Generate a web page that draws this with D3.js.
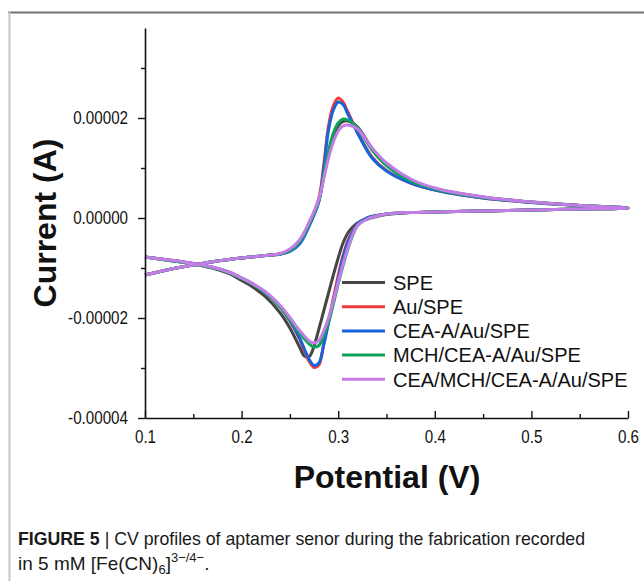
<!DOCTYPE html>
<html>
<head>
<meta charset="utf-8">
<script src="https://cdn.jsdelivr.net/npm/d3@7/dist/d3.min.js"></script>
<style>
  body { margin: 0; background: #fff; }
  svg { display: block; }
  .tickLabel { font-family: "Liberation Sans", Arial, sans-serif; font-size: 18.5px; fill: #111; }
</style>
</head>
<body>
<div id="chart"></div>
<script>
"use strict";

// potentials (V) of the forward (anodic) and reverse (cathodic) scans
let forwardPotential = [0.10, 0.125, 0.15, 0.175, 0.20, 0.225, 0.24, 0.25, 0.26, 0.27, 0.28, 0.285, 0.29,
  0.295, 0.30, 0.305, 0.31, 0.32, 0.335, 0.35, 0.375, 0.40, 0.45, 0.50, 0.55, 0.60];
let reversePotential = [0.60, 0.55, 0.50, 0.45, 0.40, 0.375, 0.35, 0.34, 0.33, 0.32, 0.315, 0.31, 0.305,
  0.30, 0.295, 0.29, 0.285, 0.28, 0.275, 0.27, 0.265, 0.26, 0.25, 0.24, 0.225, 0.21, 0.20, 0.188, 0.175,
  0.15, 0.125, 0.10];

let seriesNames = ["SPE", "Au/SPE", "CEA-A/Au/SPE", "MCH/CEA-A/Au/SPE", "CEA/MCH/CEA-A/Au/SPE"];
let seriesColors = ["#454545", "#f23a3a", "#1763d9", "#0ea35a", "#c47de6"];

// currents in units of 1e-6 A
let forwardCurrent = [
  [-11.4, -10.3, -9.4, -8.6, -8.0, -7.5, -7.2, -6.4, -4.6, -1.0, 3.5, 8.2, 12.8, 16.2, 18.4, 19.3, 19.4, 18.2, 14.0, 10.8, 7.6, 5.9, 4.2, 3.2, 2.5, 2.0],
  [-11.4, -10.3, -9.4, -8.6, -8.0, -7.5, -7.2, -6.6, -5.0, -1.2, 4.0, 10.5, 18.5, 22.5, 24.0, 23.2, 21.2, 17.2, 12.2, 9.5, 7.0, 5.6, 4.0, 3.1, 2.5, 2.0],
  [-11.4, -10.3, -9.4, -8.6, -8.0, -7.5, -7.2, -6.7, -5.2, -1.6, 3.3, 9.8, 17.6, 21.6, 23.2, 22.7, 20.8, 17.0, 12.0, 9.4, 7.0, 5.6, 4.0, 3.1, 2.5, 2.0],
  [-11.4, -10.3, -9.4, -8.6, -8.0, -7.5, -7.2, -6.5, -4.8, -1.2, 3.5, 8.5, 13.5, 17.0, 19.0, 19.8, 19.6, 18.0, 13.6, 10.5, 7.4, 5.8, 4.1, 3.2, 2.5, 2.0],
  [-11.4, -10.3, -9.4, -8.6, -8.0, -7.5, -7.1, -6.2, -4.4, -0.8, 3.8, 7.8, 12.0, 15.2, 17.4, 18.4, 18.6, 17.8, 14.0, 11.0, 7.8, 6.0, 4.2, 3.2, 2.5, 2.0]
];
let reverseCurrent = [
  [2.0, 1.8, 1.6, 1.4, 1.2, 1.1, 0.7, 0.3, -0.2, -1.0, -1.8, -3.0, -5.0, -8.0, -11.4, -15.0, -18.6, -22.2, -25.6, -27.7, -27.6, -25.8, -22.0, -19.0, -15.8, -13.6, -12.5, -11.2, -10.3, -9.2, -8.5, -7.8],
  [2.0, 1.8, 1.6, 1.4, 1.2, 1.1, 0.8, 0.5, 0.0, -1.2, -2.6, -4.5, -7.5, -11.5, -16.0, -20.5, -25.2, -29.4, -29.9, -28.7, -26.6, -24.2, -20.6, -17.8, -15.0, -13.0, -12.0, -10.9, -10.1, -9.1, -8.4, -7.8],
  [2.0, 1.8, 1.6, 1.4, 1.2, 1.1, 0.8, 0.5, 0.0, -1.2, -2.8, -4.8, -8.0, -12.2, -16.7, -21.0, -25.4, -29.0, -29.5, -28.3, -26.2, -24.0, -20.5, -17.8, -15.0, -13.0, -12.0, -10.9, -10.1, -9.1, -8.4, -7.8],
  [2.0, 1.8, 1.6, 1.4, 1.2, 1.1, 0.8, 0.4, -0.2, -1.5, -3.5, -6.2, -9.5, -13.2, -17.2, -20.8, -23.6, -25.5, -25.8, -25.2, -24.2, -23.0, -20.3, -17.8, -15.0, -13.1, -12.1, -11.0, -10.2, -9.2, -8.5, -7.8],
  [2.0, 1.8, 1.6, 1.4, 1.2, 1.1, 0.8, 0.4, -0.2, -1.5, -3.3, -6.0, -9.2, -12.8, -16.6, -20.0, -22.6, -24.5, -25.0, -24.6, -23.6, -22.5, -19.9, -17.5, -14.8, -13.0, -12.0, -10.9, -10.1, -9.1, -8.4, -7.8]
];

let xMajorTicks = [0.1, 0.2, 0.3, 0.4, 0.5, 0.6];
let xMinorTicks = [0.15, 0.25, 0.35, 0.45, 0.55];
let yMajorTicks = [-0.00004, -0.00002, 0, 0.00002];
let yMinorTicks = [-0.00003, -0.00001, 0.00001, 0.00003];

let width = 644, height = 581;

let svg = d3.select("#chart").append("svg")
  .attr("width", width)
  .attr("height", height);

svg.append("rect")
  .attr("width", width)
  .attr("height", height)
  .attr("fill", "#fff");

// figure frame (top rule and left rule)
svg.append("line")
  .attr("x1", 8).attr("x2", width)
  .attr("y1", 12.5).attr("y2", 12.5)
  .attr("stroke", "#727272")
  .attr("stroke-width", 2);
svg.append("line")
  .attr("x1", 9.5).attr("x2", 9.5)
  .attr("y1", 12).attr("y2", height)
  .attr("stroke", "#c6c6c6")
  .attr("stroke-width", 2);

let x = d3.scaleLinear().domain([0.1, 0.6]).range([145, 628]);
let y = d3.scaleLinear().domain([-0.00004, 0.000038]).range([418, 28]);

// curves
let line = d3.line()
  .x(d => x(d[0]))
  .y(d => y(d[1] * 1e-6))
  .curve(d3.curveCatmullRom.alpha(0.5));

let curves = svg.append("g").attr("class", "curves");

seriesNames.forEach(function(name, i) {
  let pts = forwardPotential.map((v, j) => [v, forwardCurrent[i][j]])
    .concat(reversePotential.slice(1).map((v, j) => [v, reverseCurrent[i][j + 1]]));

  curves.append("path")
    .datum(pts)
    .attr("d", line)
    .attr("fill", "none")
    .attr("stroke", seriesColors[i])
    .attr("stroke-width", 3)
    .attr("stroke-linejoin", "round");
});

// y axis: ticks point outward
svg.append("g")
  .attr("transform", "translate(145,0)")
  .call(d3.axisLeft(y)
    .tickValues(yMajorTicks)
    .tickSize(7)
    .tickSizeOuter(0)
    .tickPadding(10)
    .tickFormat(d => d.toFixed(5)));

svg.append("g")
  .attr("transform", "translate(145,0)")
  .call(d3.axisLeft(y).tickValues(yMinorTicks).tickSize(4).tickSizeOuter(0).tickFormat(""))
  .select(".domain").remove();

// x axis: ticks point inward
let xAxis = svg.append("g")
  .attr("transform", "translate(0,418)")
  .call(d3.axisBottom(x)
    .tickValues(xMajorTicks)
    .tickSize(-7)
    .tickSizeOuter(0)
    .tickPadding(12)
    .tickFormat(d3.format(".1f")));

svg.append("g")
  .attr("transform", "translate(0,418)")
  .call(d3.axisBottom(x).tickValues(xMinorTicks).tickSize(-4).tickSizeOuter(0).tickFormat(""))
  .select(".domain").remove();

svg.selectAll(".tick line").attr("stroke", "#111").attr("stroke-width", 1.4);
svg.selectAll(".domain").attr("stroke", "#111").attr("stroke-width", 1.6);
svg.selectAll(".tick text")
  .attr("class", "tickLabel")
  .attr("font-family", null)
  .attr("font-size", null);
xAxis.selectAll(".tick text").attr("dy", null).attr("y", 25);

// the original labels use a narrow face: squeeze the regular one
function narrow(sel, k) {
  sel.each(function() {
    let len = this.getComputedTextLength();
    d3.select(this)
      .attr("textLength", len * k)
      .attr("lengthAdjust", "spacingAndGlyphs");
  });
}
narrow(svg.selectAll(".tick text"), 0.82);

// axis titles
svg.append("text")
  .attr("transform", "translate(56,223) rotate(-90)")
  .attr("text-anchor", "middle")
  .style("font-family", "'Liberation Sans', Arial, sans-serif")
  .style("font-weight", "bold")
  .style("font-size", "32px")
  .style("fill", "#111")
  .text("Current (A)");

svg.append("text")
  .attr("x", 387)
  .attr("y", 488)
  .attr("text-anchor", "middle")
  .style("font-family", "'Liberation Sans', Arial, sans-serif")
  .style("font-weight", "bold")
  .style("font-size", "32px")
  .style("fill", "#111")
  .text("Potential (V)");

// legend
let legend = svg.append("g").attr("class", "legend");
seriesNames.forEach(function(name, i) {
  let ly = 282.5 + i * 24.2;
  legend.append("line")
    .attr("x1", 342).attr("x2", 385)
    .attr("y1", ly).attr("y2", ly)
    .attr("stroke", seriesColors[i])
    .attr("stroke-width", 3);
  legend.append("text")
    .attr("x", 393)
    .attr("y", ly)
    .attr("dy", "0.36em")
    .style("font-family", "'Liberation Sans', Arial, sans-serif")
    .style("font-size", "20px")
    .style("fill", "#111")
    .text(name);
});

// caption
let capFont = "'Liberation Sans', Arial, sans-serif";
let cap1 = svg.append("text")
  .attr("x", 18)
  .attr("y", 545)
  .attr("textLength", 567)
  .attr("lengthAdjust", "spacingAndGlyphs")
  .style("font-family", capFont)
  .style("font-size", "19px")
  .style("fill", "#1a1a1a");
cap1.append("tspan").style("font-weight", "bold").text("FIGURE 5");
cap1.append("tspan").text(" | CV profiles of aptamer senor during the fabrication recorded");

let cap2 = svg.append("text")
  .attr("x", 18)
  .attr("y", 570)
  .style("font-family", capFont)
  .style("font-size", "19px")
  .style("fill", "#1a1a1a");
cap2.append("tspan").text("in 5 mM  [Fe(CN)");
cap2.append("tspan").attr("dy", 4).style("font-size", "13px").text("6");
cap2.append("tspan").attr("dy", -4).text("]");
cap2.append("tspan").attr("dy", -8).style("font-size", "13px").text("3\u2212/4\u2212");
cap2.append("tspan").attr("dy", 8).text(".");
</script>
</body>
</html>
